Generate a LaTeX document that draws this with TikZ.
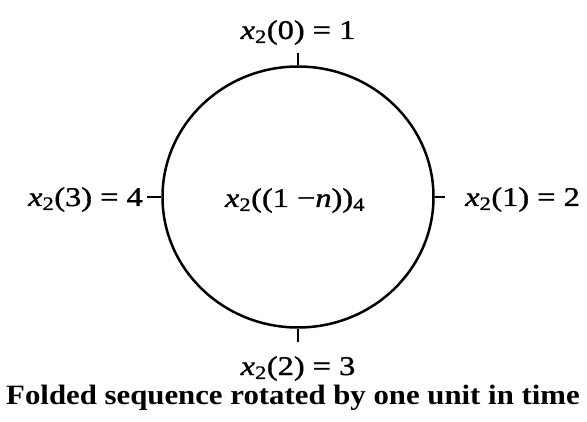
\documentclass[tikz,border=0pt]{standalone}
\usepackage{fontspec}
\setmainfont{Liberation Serif}
\newfontfamily\lblfont[FakeStretch=1.2,FakeBold=1.2]{Liberation Serif}
\newfontfamily\capfont[FakeStretch=1.1]{Liberation Serif}
\usetikzlibrary{positioning,shapes.geometric}
\newcommand{\xtwo}[1]{\textit{x}\textsubscript{2}(#1)}

\begin{document}
\begin{tikzpicture}[x=1pt,y=-1pt,font=\lblfont\fontsize{27}{30}\selectfont,
  ring/.style={draw,ellipse,line width=2.5pt,minimum width=271pt,minimum height=261pt,inner sep=0pt},
  tickmark/.style={line width=2pt},
  lbl/.style={inner sep=0pt,anchor=base}]
\useasboundingbox (0,0) rectangle (587,422);
\node[ring] (ring) at (298,197) {};
% tick marks on the ring
\coordinate (t0) at ([yshift=12pt]ring.north);
\coordinate (t1) at ([xshift=10pt]ring.east);
\coordinate (t2) at ([yshift=-13pt]ring.south);
\coordinate (t3) at ([xshift=-14pt]ring.west);
\draw[tickmark] (ring.north) -- (t0);
\draw[tickmark] (ring.east) -- (t1);
\draw[tickmark] (ring.south) -- (t2);
\draw[tickmark] (ring.west) -- (t3);
% sample values
\node[lbl] (v0) at (298,39) {\xtwo{0} = 1};
\node[lbl,anchor=base west] (v1) at (465,206) {\xtwo{1} = 2};
\node[lbl] (v2) at (298,375) {\xtwo{2} = 3};
\node[lbl,anchor=base east] (v3) at (143,206) {\xtwo{3} = 4};
\node[lbl] (mid) at (295,207) {\textit{x}\textsubscript{2}((1 −\textit{n}))\textsubscript{4}};
\node[lbl,font=\capfont\fontsize{28}{30}\selectfont\bfseries] (cap) at (293,405) {Folded sequence rotated by one unit in time};
\end{tikzpicture}
\end{document}
